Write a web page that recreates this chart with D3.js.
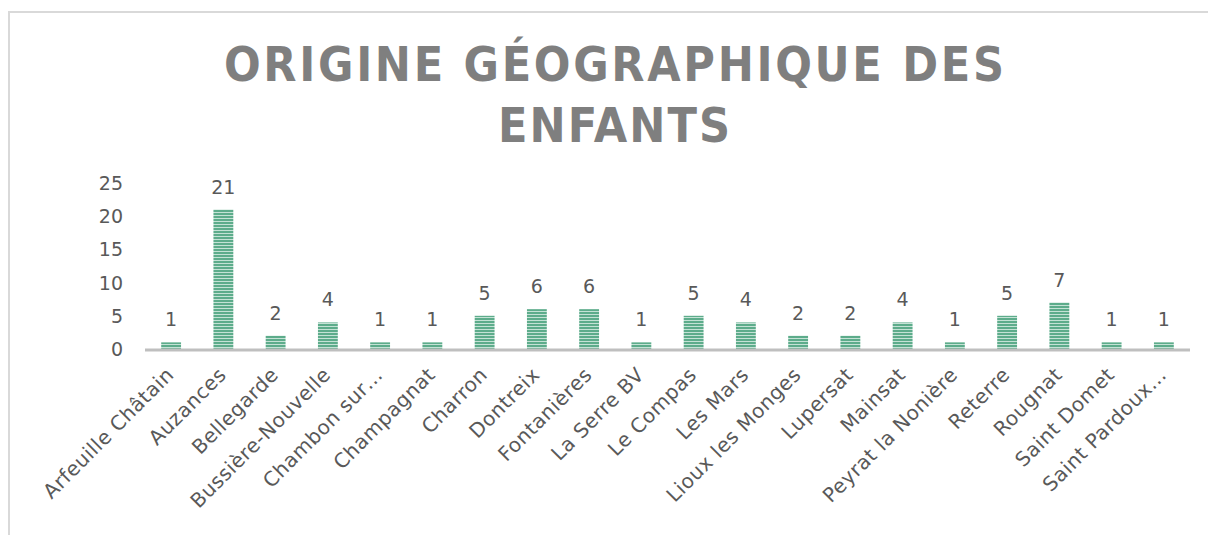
<!DOCTYPE html>
<meta charset="utf-8">
<style>
    body { margin: 0; background: #fff; }
    svg text { font-family: "DejaVu Sans", sans-serif; fill: #595959; }
    .title { font-family: "DejaVu Sans Condensed", "DejaVu Sans", sans-serif; font-stretch: condensed; font-weight: bold; fill: #7f7f7f; }
</style>
<svg width="1208" height="535"></svg>
<script src="https://cdn.jsdelivr.net/npm/d3@7"></script>
<script>
    var communes = ["Arfeuille Châtain", "Auzances", "Bellegarde", "Bussière-Nouvelle", "Chambon sur…",
        "Champagnat", "Charron", "Dontreix", "Fontanières", "La Serre BV", "Le Compas", "Les Mars",
        "Lioux les Monges", "Lupersat", "Mainsat", "Peyrat la Nonière", "Reterre", "Rougnat",
        "Saint Domet", "Saint Pardoux…"];
    var enfants = [1, 21, 2, 4, 1, 1, 5, 6, 6, 1, 5, 4, 2, 2, 4, 1, 5, 7, 1, 1];
    var yTicks = [0, 5, 10, 15, 20, 25];
    var titleLines = ["ORIGINE GÉOGRAPHIQUE DES", "ENFANTS"];
    var titleWidths = [780, 232];

    var svg = d3.select("svg");
    var defs = svg.append("defs");
    var pat = defs.append("pattern")
        .attr("id", "stripes")
        .attr("patternUnits", "userSpaceOnUse")
        .attr("width", 6).attr("height", 3);
    pat.append("rect").attr("width", 6).attr("height", 3).attr("fill", "#5dac8b");
    pat.append("rect").attr("y", 2).attr("width", 6).attr("height", 1).attr("fill", "#c4e2d5");

    // chart frame
    svg.append("rect")
        .attr("x", 9).attr("y", 12)
        .attr("width", 1240).attr("height", 560)
        .attr("fill", "none").attr("stroke", "#d9d9d9").attr("stroke-width", 2);

    svg.selectAll(".title").data(titleLines).enter().append("text")
        .attr("class", "title")
        .attr("x", 614)
        .attr("y", function (d, i) { return 81 + i * 61; })
        .attr("text-anchor", "middle")
        .attr("textLength", function (d, i) { return titleWidths[i]; })
        .attr("lengthAdjust", "spacing")
        .style("font-size", "48px")
        .text(function (d) { return d; });

    var x = d3.scaleBand().domain(communes).range([145, 1190]).paddingInner(0.62).paddingOuter(0.31);
    var y = d3.scaleLinear().domain([0, 25]).range([349, 183]);

    svg.selectAll(".ytick").data(yTicks).enter().append("text")
        .attr("x", 123)
        .attr("y", function (d) { return y(d) + 7; })
        .attr("text-anchor", "end")
        .style("font-size", "19px")
        .text(function (d) { return d; });

    var data = communes.map(function (c, i) { return { name: c, value: enfants[i] }; });

    svg.selectAll(".bar").data(data).enter().append("rect")
        .attr("x", function (d) { return x(d.name); })
        .attr("y", function (d) { return y(d.value); })
        .attr("width", x.bandwidth())
        .attr("height", function (d) { return y(0) - y(d.value); })
        .attr("fill", "url(#stripes)");

    svg.append("line")
        .attr("x1", 145).attr("x2", 1190)
        .attr("y1", 350).attr("y2", 350)
        .attr("stroke", "#bfbfbf").attr("stroke-width", 3);

    svg.selectAll(".val").data(data).enter().append("text")
        .attr("x", function (d) { return x(d.name) + x.bandwidth() / 2; })
        .attr("y", function (d) { return y(d.value) - 16; })
        .attr("text-anchor", "middle")
        .style("font-size", "19px")
        .text(function (d) { return d.value; });

    svg.selectAll(".cat").data(data).enter().append("text")
        .attr("text-anchor", "end")
        .attr("transform", function (d) {
            return "translate(" + (x(d.name) + x.bandwidth() / 2 + 4) + ",376) rotate(-45)";
        })
        .style("font-size", "20px")
        .style("letter-spacing", "0.5px")
        .text(function (d) { return d.name; });
</script>
